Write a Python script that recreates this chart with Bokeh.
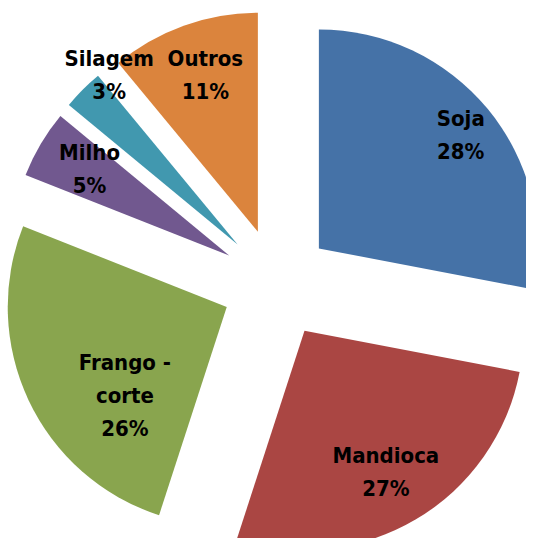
import math
from bokeh.plotting import figure
from bokeh.models import ColumnDataSource, Range1d
from bokeh.core.properties import value
from bokeh.embed import file_html
from bokeh.resources import INLINE

# ---- data ----
categories = ["Soja", "Mandioca", "Frango -\ncorte", "Milho", "Silagem", "Outros"]
shares = [28, 27, 26, 5, 3, 11]
colors = ["#4572A7", "#AA4643", "#89A54E", "#71588F", "#4198AF", "#DB843D"]

# ---- layout / style ----
W, H = 526, 538
CX, CY = 276, 255          # pie centre (data units = px)
R = 219                    # radius
EXPLODE = 55               # explosion distance
# label placement: fraction of radius from slice apex, and direction (deg clockwise from top)
label_frac = [0.83, 0.745, 0.616, 0.75, 0.97, 0.756]
label_dir = [51.3, 150.1, 229.0, 301.8, 322.8, 341.5]

total = float(sum(shares))
xs, ys, starts, ends, lx, ly, texts = [], [], [], [], [], [], []
cum = 0.0
for i, s in enumerate(shares):
    t1 = cum / total * 360.0
    t2 = (cum + s) / total * 360.0
    cum += s
    tm = math.radians((t1 + t2) / 2)
    ax = CX + EXPLODE * math.sin(tm)
    ay = CY + EXPLODE * math.cos(tm)
    xs.append(ax)
    ys.append(ay)
    starts.append(math.radians(90 - t2))
    ends.append(math.radians(90 - t1))
    ld = math.radians(label_dir[i])
    lx.append(ax + label_frac[i] * R * math.sin(ld))
    ly.append(ay + label_frac[i] * R * math.cos(ld))
    texts.append(f"{categories[i]}\n{s}%")

src = ColumnDataSource(dict(x=xs, y=ys, start=starts, end=ends, color=colors))
lsrc = ColumnDataSource(dict(x=lx, y=ly, text=texts))

p = figure(width=W, height=H, output_backend="svg", toolbar_location=None,
           x_range=Range1d(0, W), y_range=Range1d(0, H), min_border=0)
p.axis.visible = False
p.grid.visible = False
p.outline_line_color = None
p.background_fill_color = "white"
p.border_fill_color = "white"

p.wedge(x="x", y="y", radius=R, start_angle="start", end_angle="end",
        direction="anticlock", fill_color="color", line_color=None, source=src)

p.text(x="x", y="y", text="text", source=lsrc,
       text_font=value("'DejaVu Sans Condensed', 'Liberation Sans Narrow', 'Liberation Sans', sans-serif"),
       text_font_style="bold",
       text_font_size="22px", text_align="center", text_baseline="middle",
       text_line_height=1.32, text_color="black")

open("out.html", "w").write(file_html(p, INLINE))
